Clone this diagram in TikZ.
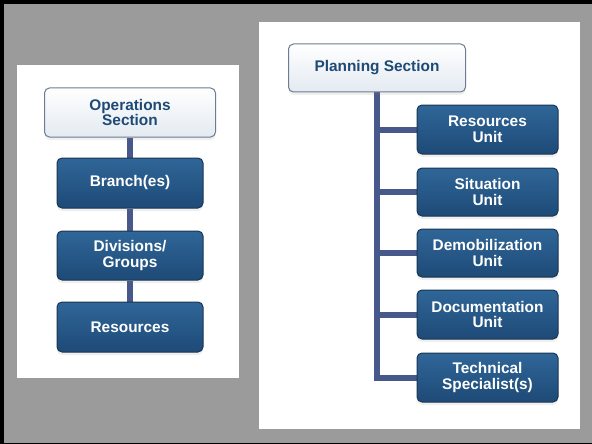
\documentclass[tikz,border=0pt]{standalone}
\usepackage{fontspec}
\setmainfont{Liberation Sans}
\usetikzlibrary{backgrounds,shadows}
\definecolor{bggray}{HTML}{9B9B9B}
\definecolor{darktop}{HTML}{2F6698}
\definecolor{darkbot}{HTML}{1E4A77}
\definecolor{darkedge}{HTML}{1B3652}
\definecolor{lighttop}{HTML}{FFFFFF}
\definecolor{lightbot}{HTML}{E3EAF1}
\definecolor{lightedge}{HTML}{6D7C92}
\definecolor{lighttext}{HTML}{1F4A75}
\definecolor{connc}{HTML}{47598A}
\tikzset{
  boxbase/.style={rounded corners=5pt, align=center, inner sep=0pt,
    font=\fontsize{15.4}{15.6}\selectfont\bfseries,
    drop shadow={opacity=0.12, shadow xshift=0pt, shadow yshift=-3pt}},
  darkbox/.style={boxbase, draw=darkedge, line width=1pt, top color=darktop, bottom color=darkbot, text=white},
  lightbox/.style={boxbase, draw=lightedge, line width=1pt, top color=lighttop, bottom color=lightbot, text=lighttext},
  conn/.style={draw=connc, line width=6pt, line join=miter}
}
\begin{document}
\begin{tikzpicture}[x=1pt,y=-1pt]
\useasboundingbox (0,0) rectangle (592,444);
% left chart
\node[lightbox, minimum width=171pt, minimum height=49pt] (ops) at (130,112.5) {Operations\\Section};
\node[darkbox, minimum width=146pt, minimum height=50pt] (br) at (130,183) {Branch(es)};
\node[darkbox, minimum width=146pt, minimum height=49pt] (div) at (130,255.5) {Divisions/\\Groups};
\node[darkbox, minimum width=146pt, minimum height=50pt] (res) at (130,327) {Resources};
% right chart
\node[lightbox, minimum width=177pt, minimum height=48pt] (plan) at (377,68) {Planning Section};
\node[darkbox, minimum width=141pt, minimum height=49pt] (ru) at (487.5,129.5) {Resources\\Unit};
\node[darkbox, minimum width=141pt, minimum height=48pt] (su) at (487.5,192) {Situation\\Unit};
\node[darkbox, minimum width=141pt, minimum height=48pt] (du) at (487.5,253) {Demobilization\\Unit};
\node[darkbox, minimum width=141pt, minimum height=49pt] (dc) at (487.5,314.5) {Documentation\\Unit};
\node[darkbox, minimum width=141pt, minimum height=49pt] (ts) at (487.5,377.5) {Technical\\Specialist(s)};
\begin{pgfonlayer}{background}
\fill[bggray] (0,0) rectangle (592,444);
\fill[black] (0,0) rectangle (592,4);
\fill[black] (0,0) rectangle (4,444);
\fill[black] (0,442.5) rectangle (592,444);
\fill[white] (17,65) rectangle (239,378);
\fill[white] (259,22) rectangle (580,429);
\draw[conn] (ops) -- (br);
\draw[conn] (br) -- (div);
\draw[conn] (div) -- (res);
\draw[conn] (plan.south) |- (ts.west);
\draw[conn] (plan.south |- ru.west) -- (ru.west);
\draw[conn] (plan.south |- su.west) -- (su.west);
\draw[conn] (plan.south |- du.west) -- (du.west);
\draw[conn] (plan.south |- dc.west) -- (dc.west);
\end{pgfonlayer}
\end{tikzpicture}
\end{document}
